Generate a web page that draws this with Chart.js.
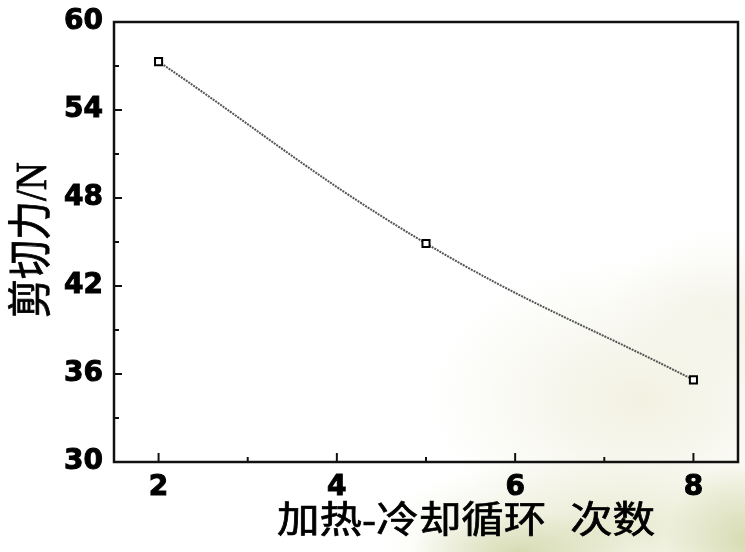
<!DOCTYPE html>
<html lang="zh">
<head>
<meta charset="utf-8">
<title>剪切力与加热-冷却循环次数</title>
<script src="https://cdn.jsdelivr.net/npm/chart.js@4/dist/chart.umd.min.js"></script>
<style>
  html, body { margin: 0; padding: 0; }
  body {
    width: 745px; height: 552px; overflow: hidden;
    background:
      radial-gradient(ellipse 110px 40px at 520px 552px, rgba(212,217,174,0.9), rgba(212,217,174,0)),
      radial-gradient(ellipse 80px 80px at 745px 540px, rgba(210,215,168,0.85), rgba(210,215,168,0)),
      radial-gradient(ellipse 230px 75px at 610px 530px, rgba(229,231,202,0.9), rgba(229,231,202,0)),
      radial-gradient(ellipse 210px 140px at 640px 400px, rgba(241,240,224,0.95), rgba(241,240,224,0)),
      radial-gradient(ellipse 110px 80px at 720px 310px, rgba(243,242,230,0.8), rgba(243,242,230,0)),
      #fff;
  }
  canvas { display: block; }
</style>
</head>
<body>
<canvas id="chart" width="745" height="552"></canvas>
<script>
// Shear force after repeated heating–cooling cycles
const cycles = [2, 5, 8];
const shearForce = [57.3, 44.9, 35.6];

// Axis tick values (major ones are labelled, minor ones are bare marks)
const xTickValues = [2, 4, 6, 8];
const xMinorValues = [3, 5, 7];
const yTickValues = [30, 36, 42, 48, 54, 60];
const yMinorValues = [33, 39, 45, 51, 57];

const xTitle = '加热-冷却循环  次数';
const yTitle = '剪切力/N';

// Axis titles are drawn slightly wide, like the rest of the lettering
const TEXT_STRETCH = 1.15;

// Inward tick marks, closed frame and axis titles
const axisDecor = {
  id: 'axisDecor',
  afterDraw(chart) {
    const { ctx, chartArea: a, scales: { x, y } } = chart;
    ctx.save();
    ctx.strokeStyle = '#111';
    ctx.lineWidth = 2;
    const mark = (px, py, dx, dy) => {
      ctx.beginPath();
      ctx.moveTo(px, py);
      ctx.lineTo(px + dx, py + dy);
      ctx.stroke();
    };
    xTickValues.forEach(v => mark(x.getPixelForValue(v), a.bottom, 0, -9));
    xMinorValues.forEach(v => mark(x.getPixelForValue(v), a.bottom, 0, -5));
    yTickValues.forEach(v => mark(a.left, y.getPixelForValue(v), 8, 0));
    yMinorValues.forEach(v => mark(a.left, y.getPixelForValue(v), 5, 0));

    ctx.lineWidth = 2.5;
    ctx.strokeRect(a.left, a.top, a.right - a.left, a.bottom - a.top);

    ctx.fillStyle = '#000';
    ctx.strokeStyle = '#000';
    ctx.lineWidth = 0.7;
    ctx.textBaseline = 'middle';
    ctx.textAlign = 'center';

    ctx.save();
    ctx.translate(466, 523);
    ctx.scale(TEXT_STRETCH, 1);
    ctx.font = '37px "Liberation Sans", "Noto Sans CJK SC", sans-serif';
    ctx.fillText(xTitle, 0, 0);
    ctx.strokeText(xTitle, 0, 0);
    ctx.restore();

    ctx.save();
    ctx.translate(34, 240);
    ctx.scale(TEXT_STRETCH, 1);
    ctx.rotate(-Math.PI / 2);
    ctx.font = '39px "Liberation Serif", "Noto Sans CJK SC", serif';
    ctx.fillText(yTitle, 0, 0);
    ctx.strokeText(yTitle, 0, 0);
    ctx.restore();

    ctx.restore();
  }
};

const tickFont = { family: '"DejaVu Sans", sans-serif', size: 28, weight: 'bold' };

new Chart(document.getElementById('chart'), {
  type: 'line',
  data: {
    datasets: [{
      data: cycles.map((c, i) => ({ x: c, y: shearForce[i] })),
      borderColor: '#555',
      borderWidth: 2,
      borderDash: [2, 1],
      tension: 0.4,
      fill: false,
      pointStyle: 'rect',
      pointRadius: 5,
      pointBorderWidth: 2,
      pointBorderColor: '#000',
      pointBackgroundColor: '#fff'
    }]
  },
  options: {
    responsive: false,
    animation: false,
    devicePixelRatio: 1,
    layout: { padding: { top: 22, right: 6, left: 0, bottom: 0 } },
    plugins: { legend: { display: false }, tooltip: { enabled: false } },
    scales: {
      x: {
        type: 'linear',
        min: 1.5,
        max: 8.5,
        afterBuildTicks(s) { s.ticks = xTickValues.map(v => ({ value: v })); },
        afterFit(s) { s.height = 90; s.paddingLeft = 0; s.paddingRight = 0; },
        grid: { display: false, drawTicks: false },
        border: { display: false },
        ticks: { padding: 9, color: '#000', font: tickFont, textStrokeColor: '#000', textStrokeWidth: 1 }
      },
      y: {
        type: 'linear',
        min: 30,
        max: 60,
        afterBuildTicks(s) { s.ticks = yTickValues.map(v => ({ value: v })); },
        afterFit(s) { s.width = 114; s.paddingTop = 0; s.paddingBottom = 0; },
        grid: { display: false, drawTicks: false },
        border: { display: false },
        ticks: { padding: 11, color: '#000', font: tickFont, textStrokeColor: '#000', textStrokeWidth: 1 }
      }
    }
  },
  plugins: [axisDecor]
});
</script>
</body>
</html>
